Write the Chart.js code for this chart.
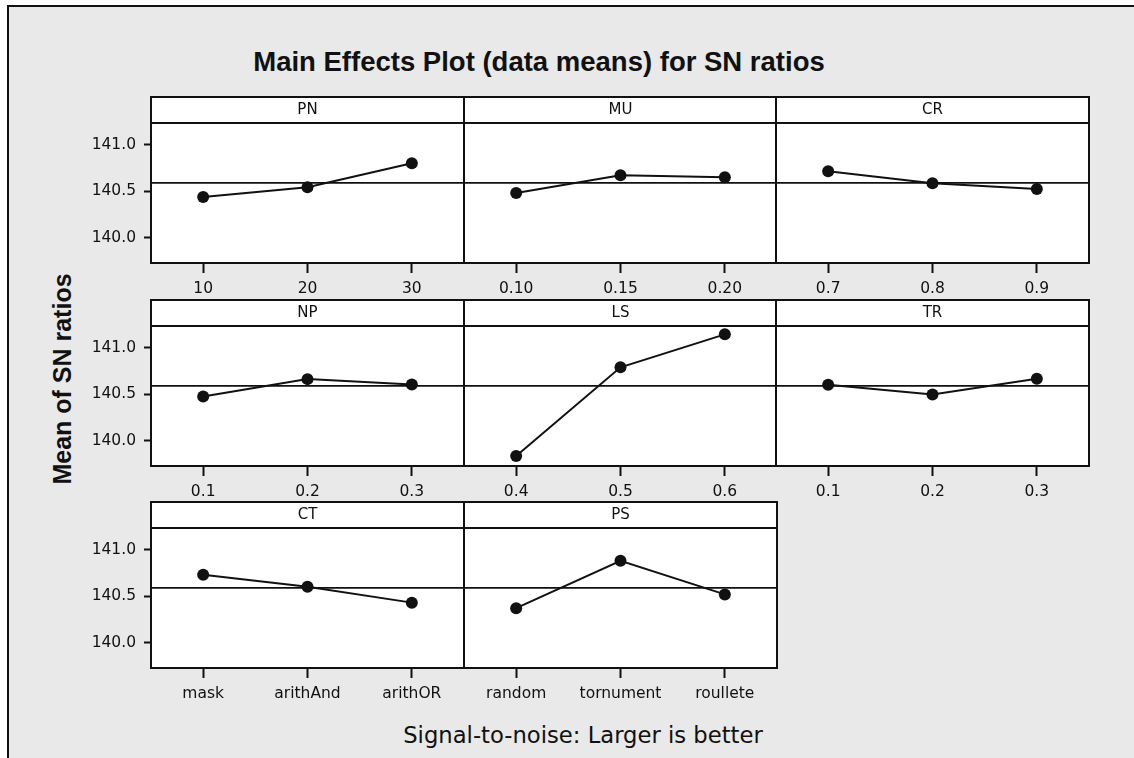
<!DOCTYPE html>
<html><head><meta charset="utf-8">
<script src="https://cdn.jsdelivr.net/npm/chart.js@4.4.1/dist/chart.umd.min.js"></script>
<style>
html,body{margin:0;padding:0;background:#fff;overflow:hidden;width:1134px;height:758px;position:relative;}
#frame{position:absolute;left:7px;top:5px;width:1160px;height:790px;border-left:2px solid #111;border-top:2px solid #111;background:#e8e9e8;}
.txt{position:absolute;color:#111;white-space:nowrap;}
#title{left:539px;top:48px;transform:translateX(-50%);font:bold 27.5px/27.5px "Liberation Sans",Arial,sans-serif;}
#ytitle{left:62px;top:379px;transform:translate(-50%,-50%) rotate(-90deg);font:bold 25px/25px "Liberation Sans",Arial,sans-serif;}
#xtitle{left:583px;top:724px;transform:translateX(-50%);font:22.7px/22.7px "DejaVu Sans",sans-serif;}
canvas{position:absolute;}
</style></head><body>
<div id="frame"></div>
<div class="txt" id="title">Main Effects Plot (data means) for SN ratios</div>
<div class="txt" id="ytitle">Mean of SN ratios</div>
<div class="txt" id="xtitle">Signal-to-noise: Larger is better</div>
<script>
// ---- data ----
const factors = ['PN', 'MU', 'CR', 'NP', 'LS', 'TR', 'CT', 'PS'];
const levelsPN = ['10', '20', '30'];
const levelsMU = ['0.10', '0.15', '0.20'];
const levelsCR = ['0.7', '0.8', '0.9'];
const levelsNP = ['0.1', '0.2', '0.3'];
const levelsLS = ['0.4', '0.5', '0.6'];
const levelsTR = ['0.1', '0.2', '0.3'];
const levelsCT = ['mask', 'arithAnd', 'arithOR'];
const levelsPS = ['random', 'tornument', 'roullete'];
const meansPN = [140.438, 140.543, 140.802];
const meansMU = [140.482, 140.673, 140.651];
const meansCR = [140.716, 140.586, 140.525];
const meansNP = [140.475, 140.663, 140.604];
const meansLS = [139.833, 140.790, 141.146];
const meansTR = [140.603, 140.497, 140.667];
const meansCT = [140.732, 140.603, 140.431];
const meansPS = [140.371, 140.883, 140.520];
const grandMean = 140.59;
const yTicks = [140.0, 140.5, 141.0];
const yMin = 139.726, yMax = 141.236;

const panelLevels = [levelsPN, levelsMU, levelsCR, levelsNP, levelsLS, levelsTR, levelsCT, levelsPS];
const panelMeans = [meansPN, meansMU, meansCR, meansNP, meansLS, meansTR, meansCT, meansPS];

// ---- layout ----
const colLeft = [151, 464, 776];
const colW = 313;
const rowTop = [97, 300, 502];
const headerH = 26, plotH = 140, yAxisW = 110, xAxisH = 40, padTop = 5, padRight = 12;
const INK = '#111';

const panelPlugin = {
  id: 'panelDecor',
  beforeDraw(chart) {
    const {ctx, chartArea: a} = chart;
    ctx.save();
    ctx.fillStyle = '#fff';
    ctx.fillRect(a.left, a.top - headerH, a.right - a.left, a.bottom - a.top + headerH);
    ctx.restore();
  },
  beforeDatasetsDraw(chart) {
    const {ctx, chartArea: a, scales} = chart;
    const y = scales.y.getPixelForValue(grandMean);
    ctx.save();
    ctx.strokeStyle = INK;
    ctx.lineWidth = 1.8;
    ctx.beginPath();
    ctx.moveTo(a.left, y);
    ctx.lineTo(a.right, y);
    ctx.stroke();
    ctx.restore();
  },
  afterDraw(chart) {
    const {ctx, chartArea: a} = chart;
    ctx.save();
    ctx.strokeStyle = INK;
    ctx.lineWidth = 2;
    ctx.strokeRect(a.left, a.top - headerH, a.right - a.left, a.bottom - a.top + headerH);
    ctx.beginPath();
    ctx.moveTo(a.left, a.top);
    ctx.lineTo(a.right, a.top);
    ctx.stroke();
    ctx.restore();
  }
};

factors.forEach((name, i) => {
  const row = Math.floor(i / 3), col = i % 3;
  const showY = col === 0;
  const cv = document.createElement('canvas');
  const W = yAxisW + colW + padRight;
  const H = padTop + headerH + plotH + xAxisH;
  cv.width = W; cv.height = H;
  cv.style.left = (colLeft[col] - yAxisW) + 'px';
  cv.style.top = (rowTop[row] - padTop) + 'px';
  cv.style.width = W + 'px'; cv.style.height = H + 'px';
  document.body.appendChild(cv);
  new Chart(cv, {
    type: 'line',
    data: {
      labels: panelLevels[i],
      datasets: [{
        data: panelMeans[i],
        borderColor: INK, borderWidth: 2,
        pointRadius: 6, pointBackgroundColor: INK, pointBorderColor: INK, pointBorderWidth: 0,
        tension: 0
      }]
    },
    options: {
      responsive: false, animation: false, devicePixelRatio: 1,
      layout: {padding: {left: 0, right: padRight, top: padTop, bottom: 0}},
      plugins: {
        legend: {display: false}, tooltip: {enabled: false},
        title: {display: true, fullSize: false, text: name, color: INK,
          font: {family: 'DejaVu Sans', size: 15, weight: 'normal', lineHeight: 1.2},
          padding: {top: 4, bottom: 4}}
      },
      scales: {
        x: {
          type: 'category', offset: true,
          grid: {display: true, drawOnChartArea: false, drawTicks: true, tickLength: 10, tickWidth: 2, tickColor: INK, offset: false},
          border: {display: false},
          ticks: {color: INK, font: {family: 'DejaVu Sans', size: 15.5}, padding: 7, maxRotation: 0, autoSkip: false},
          afterFit(s) { s.height = xAxisH; }
        },
        y: {
          min: yMin, max: yMax,
          afterBuildTicks(s) { s.ticks = yTicks.map(v => ({value: v})); },
          grid: {display: true, drawOnChartArea: false, drawTicks: showY, tickLength: 7, tickWidth: 2, tickColor: INK},
          border: {display: false},
          ticks: {display: showY, color: INK, font: {family: 'DejaVu Sans', size: 15.5}, padding: 8,
            callback: v => Number(v).toFixed(1)},
          afterFit(s) { s.width = yAxisW; }
        }
      }
    },
    plugins: [panelPlugin]
  });
});
</script>
</body></html>
